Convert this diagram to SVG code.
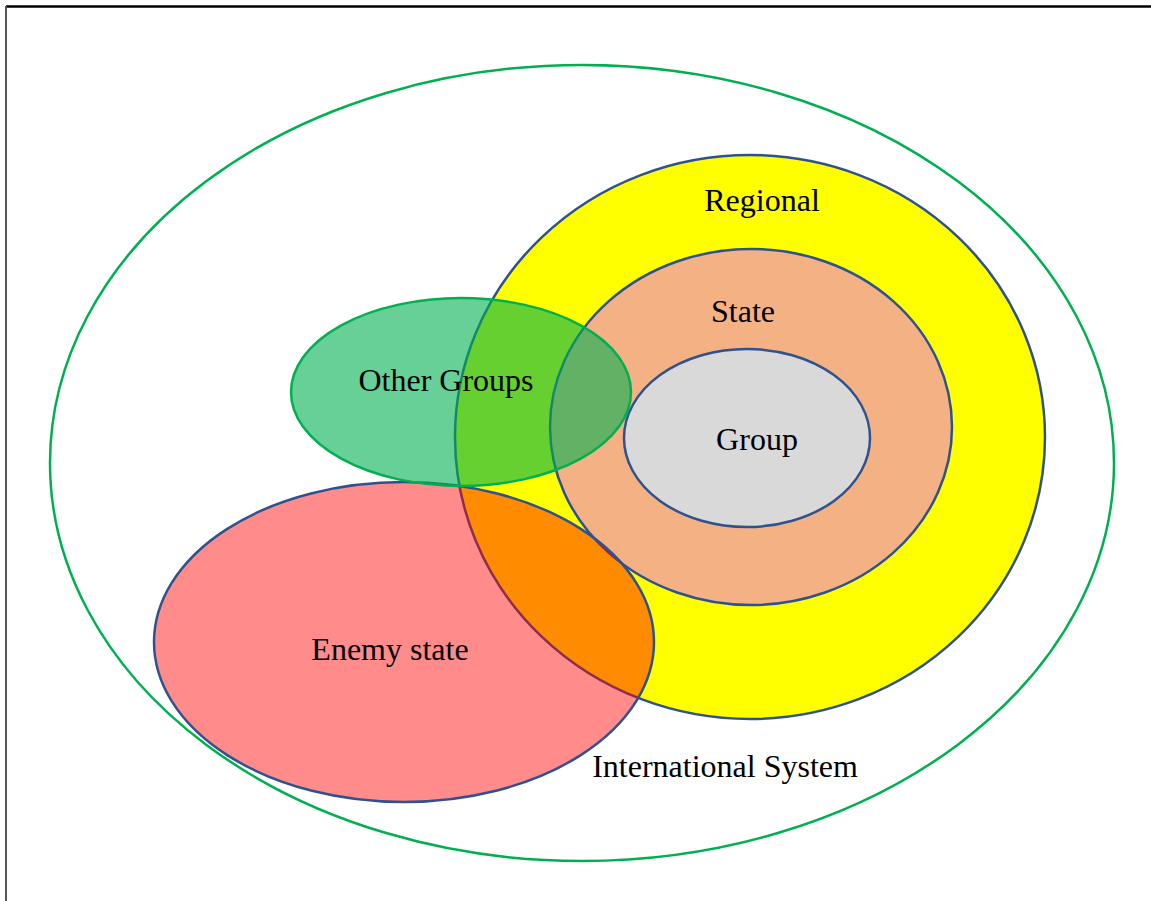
<svg xmlns="http://www.w3.org/2000/svg" width="1151" height="901" viewBox="0 0 1151 901">
<style>
  .lbl { font-family: "Liberation Serif", "Times New Roman", serif; font-size: 32px; fill: #000; text-anchor: middle; }
  .blue { stroke: #2F528F; stroke-width: 2.5; }
</style>
<rect width="1151" height="901" fill="#fff"/>
<g id="frame">
  <line x1="6" y1="6.5" x2="1151" y2="6.5" stroke="#000" stroke-width="2.5"/>
  <line x1="6" y1="6" x2="6" y2="901" stroke="#555" stroke-width="2"/>
</g>
<g id="international">
  <ellipse cx="582" cy="463" rx="532" ry="398" fill="none" stroke="#00B050" stroke-width="2.5"/>
  <text class="lbl" x="725" y="777">International System</text>
</g>
<g id="regional">
  <ellipse class="blue" cx="750" cy="437" rx="295" ry="282" fill="#FFFF00"/>
  <text class="lbl" x="762" y="211">Regional</text>
</g>
<g id="state">
  <ellipse class="blue" cx="751" cy="427" rx="201" ry="178" fill="#F4B183"/>
  <text class="lbl" x="743" y="322">State</text>
</g>
<g id="group">
  <ellipse class="blue" cx="747" cy="438" rx="123" ry="89" fill="#D9D9D9"/>
  <text class="lbl" x="757" y="450">Group</text>
</g>
<g id="enemy-state">
  <ellipse class="blue" cx="404" cy="642" rx="250" ry="160" fill="#FF0000" fill-opacity="0.455"/>
  <text class="lbl" x="390" y="660">Enemy state</text>
</g>
<g id="other-groups">
  <ellipse cx="461" cy="392" rx="170" ry="94" fill="#00B050" fill-opacity="0.6" stroke="#00B050" stroke-width="2.5"/>
  <text class="lbl" x="446" y="391">Other Groups</text>
</g>
<g id="connectors"></g>
</svg>
